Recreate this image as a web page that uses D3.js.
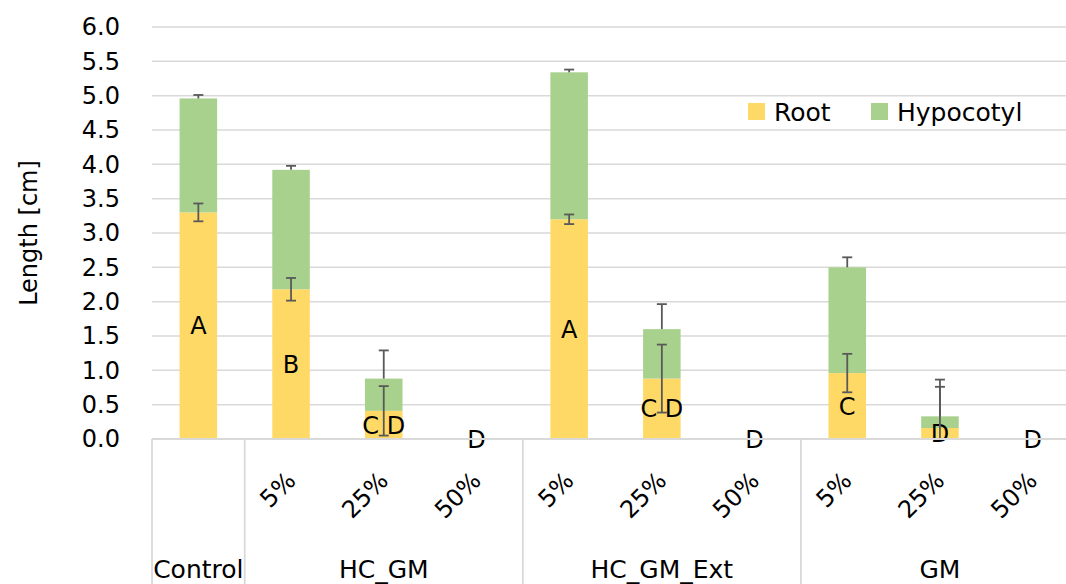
<!DOCTYPE html>
<html lang="en">
<head>
    <meta charset="UTF-8">
    <title>Root and Hypocotyl Length</title>
    <script src="https://d3js.org/d3.v7.min.js"></script>
    <style>
        body{
            margin:0;
            background-color: white;
        }
        svg{
            display:block;
            font-family: "DejaVu Sans", sans-serif;
        }
    </style>
</head>
<body>
    <script>
        // data
        const subLabels = ["", "5%", "25%", "50%", "5%", "25%", "50%", "5%", "25%", "50%"];
        const groupNames = ["Control", "HC_GM", "HC_GM_Ext", "GM"];
        const groupSizes = [1, 3, 3, 3];
        const root = [3.30, 2.18, 0.41, 0, 3.20, 0.88, 0, 0.96, 0.16, 0];
        const hypocotyl = [1.66, 1.74, 0.47, 0, 2.14, 0.72, 0, 1.54, 0.17, 0];
        const rootErr = [0.13, 0.165, 0.36, 0, 0.07, 0.495, 0, 0.28, 0.60, 0];
        const hypErr = [0.05, 0.058, 0.41, 0, 0.04, 0.364, 0, 0.146, 0.535, 0];
        const letters = ["A", "B", "C D", "D", "A", "C D", "D", "C", "D", "D"];
        const yTicks = [0, 0.5, 1, 1.5, 2, 2.5, 3, 3.5, 4, 4.5, 5, 5.5, 6];

        const w = 1066;
        const h = 584;
        const margin = {left:152, top:27, bottom:145};
        const plotRight = 1079; // plot runs past the picture edge
        const yellow = "#FFD966";
        const green = "#A9D18E";
        const errColor = "#595959";
        const gridColor = "#D9D9D9";

        const svg = d3.select("body").append("svg").attr("width",w).attr("height",h);

        const idx = d3.range(root.length);
        const xScale = d3.scaleBand().domain(idx).range([margin.left, plotRight]).padding(0);
        const yScale = d3.scaleLinear().domain([0, 6]).range([h - margin.bottom, margin.top]);
        const barW = xScale.bandwidth() * 0.405;
        const cx = function(i){ return xScale(i) + xScale.bandwidth()/2; };

        // gridlines
        svg.append("g")
            .selectAll("line")
            .data(yTicks)
            .enter()
            .append("line")
            .attr("x1", margin.left).attr("x2", plotRight)
            .attr("y1", d => yScale(d)).attr("y2", d => yScale(d))
            .attr("stroke", gridColor).attr("stroke-width", 1.5);

        // y tick labels
        const yaxis = d3.axisLeft(yScale).tickValues(yTicks).tickFormat(d3.format(".1f")).tickSize(0).tickPadding(0);
        const ya = svg.append("g").attr("transform","translate(" + (margin.left - 32) + ",0)").call(yaxis);
        ya.select(".domain").remove();
        ya.selectAll("text").attr("font-size", 24).attr("fill", "#000").attr("font-family", "DejaVu Sans");

        // y title
        svg.append("text")
            .attr("transform", "translate(37," + 233 + ") rotate(-90)")
            .attr("text-anchor", "middle")
            .attr("font-size", 24)
            .text("Length [cm]");

        // stacked bars
        svg.append("g").selectAll("rect")
            .data(idx)
            .enter()
            .append("rect")
            .attr("x", i => cx(i) - barW/2)
            .attr("width", barW)
            .attr("y", i => yScale(root[i]))
            .attr("height", i => yScale(0) - yScale(root[i]))
            .attr("fill", yellow);

        svg.append("g").selectAll("rect")
            .data(idx)
            .enter()
            .append("rect")
            .attr("x", i => cx(i) - barW/2)
            .attr("width", barW)
            .attr("y", i => yScale(root[i] + hypocotyl[i]))
            .attr("height", i => yScale(root[i]) - yScale(root[i] + hypocotyl[i]))
            .attr("fill", green);

        // letter labels in middle of root bars
        svg.append("g").selectAll("text")
            .data(idx)
            .enter()
            .append("text")
            .attr("x", i => cx(i))
            .attr("y", i => yScale(root[i]/2))
            .attr("dy", "0.36em")
            .attr("text-anchor", "middle")
            .attr("font-size", 24)
            .text(i => letters[i]);

        // error bars
        const eb = svg.append("g").attr("stroke", errColor).attr("stroke-width", 1.8);
        const capW = 5;
        idx.forEach(function(i){
            if (rootErr[i] > 0) {
                const top = root[i] + rootErr[i];
                const bot = Math.max(0, root[i] - rootErr[i]);
                eb.append("line").attr("x1", cx(i)).attr("x2", cx(i)).attr("y1", yScale(top)).attr("y2", yScale(bot));
                eb.append("line").attr("x1", cx(i)-capW).attr("x2", cx(i)+capW).attr("y1", yScale(top)).attr("y2", yScale(top));
                if (root[i] - rootErr[i] > 0) {
                    eb.append("line").attr("x1", cx(i)-capW).attr("x2", cx(i)+capW).attr("y1", yScale(bot)).attr("y2", yScale(bot));
                }
            }
            if (hypErr[i] > 0) {
                const base = root[i] + hypocotyl[i];
                const top = base + hypErr[i];
                eb.append("line").attr("x1", cx(i)).attr("x2", cx(i)).attr("y1", yScale(top)).attr("y2", yScale(base));
                eb.append("line").attr("x1", cx(i)-capW).attr("x2", cx(i)+capW).attr("y1", yScale(top)).attr("y2", yScale(top));
            }
        });

        // category axis
        const axisG = svg.append("g").attr("stroke", gridColor).attr("stroke-width", 1.8);
        axisG.append("line").attr("x1", margin.left).attr("x2", plotRight).attr("y1", yScale(0)).attr("y2", yScale(0));
        let start = 0;
        const bounds = [0];
        groupSizes.forEach(function(n){ start += n; bounds.push(start); });
        bounds.forEach(function(b){
            const x = b < root.length ? xScale(b) : plotRight;
            axisG.append("line").attr("x1", x).attr("x2", x).attr("y1", yScale(0)).attr("y2", h);
        });

        svg.append("g").selectAll("text")
            .data(idx.filter(i => subLabels[i] !== ""))
            .enter()
            .append("text")
            .attr("transform", i => "translate(" + (cx(i) + 6) + ",482) rotate(-45)")
            .attr("text-anchor", "end")
            .attr("font-size", 24)
            .text(i => subLabels[i]);

        svg.append("g").selectAll("text")
            .data(groupNames)
            .enter()
            .append("text")
            .attr("x", (d, g) => (xScale(bounds[g]) + (bounds[g+1] < root.length ? xScale(bounds[g+1]) : plotRight)) / 2)
            .attr("y", 578)
            .attr("text-anchor", "middle")
            .attr("font-size", 25)
            .text(d => d);

        // legend
        const legend = [{name:"Root", color:yellow, x:748}, {name:"Hypocotyl", color:green, x:871}];
        const lg = svg.append("g").selectAll("g").data(legend).enter().append("g");
        lg.append("rect").attr("x", d => d.x).attr("y", 103).attr("width", 17).attr("height", 17).attr("fill", d => d.color);
        lg.append("text").attr("x", d => d.x + 26).attr("y", 121).attr("font-size", 25).text(d => d.name);
    </script>
</body>
</html>
